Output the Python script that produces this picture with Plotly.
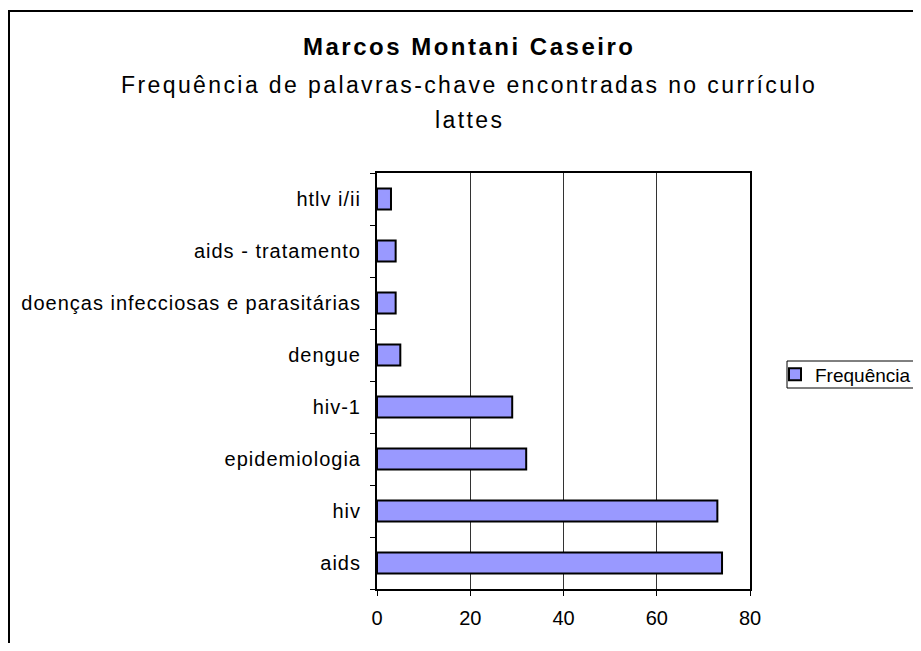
import plotly.graph_objects as go

categories = ["aids", "hiv", "epidemiologia", "hiv-1", "dengue",
              "doenças infecciosas e parasitárias", "aids - tratamento", "htlv i/ii"]
values = [74, 73, 32, 29, 5, 4, 4, 3]
x_ticks = [0, 20, 40, 60, 80]
series_name = "Frequência"
title_text = "Marcos Montani Caseiro"
subtitle_lines = ["Frequência de palavras-chave encontradas no currículo", "lattes"]

FONT = "Liberation Sans, Arial, sans-serif"

# page body has an 8px margin on every side; keep the figure inside the window
OFF = 8
W, H = 921 - 2 * OFF, 651 - 2 * OFF
# plot-area edges in screenshot pixels
L, R, T, B = 377, 750, 173, 589


def px(xp):
    return (xp - L) / (R - L)


def py(yp):
    return (B - yp) / (B - T)


def spaced(s, sp):
    return '<span style="letter-spacing:%spx">%s</span>' % (sp, s)


fig = go.Figure()
fig.add_trace(go.Bar(
    x=values, y=categories, orientation="h", name=series_name,
    marker=dict(color="#9999FF", line=dict(color="black", width=2)),
    showlegend=True,
))

fig.update_layout(
    width=W, height=H,
    margin=dict(l=L - OFF, r=W - (R - OFF), t=T - OFF, b=H - (B - OFF),
                pad=0, autoexpand=False),
    paper_bgcolor="white", plot_bgcolor="white",
    font=dict(family=FONT, size=20, color="black"),
    bargap=0.6,
    showlegend=True,
    legend=dict(
        x=px(775), y=py(374.5), xanchor="left", yanchor="middle",
        bgcolor="rgba(0,0,0,0)", borderwidth=0,
        font=dict(family=FONT, size=19, color="black"),
        itemwidth=30, itemsizing="constant",
    ),
    xaxis=dict(
        range=[0, 80], tickvals=x_ticks, ticks="outside", ticklen=5,
        tickcolor="black", tickwidth=1, showgrid=True, gridcolor="#333",
        gridwidth=1, showline=True, linecolor="black", linewidth=2,
        mirror=True, zeroline=False, ticklabelstandoff=5, automargin=False,
        tickfont=dict(family=FONT, size=20, color="black"), fixedrange=True,
    ),
    yaxis=dict(
        type="category", categoryorder="array", categoryarray=categories,
        tickvals=categories, ticktext=[spaced(c, 1) for c in categories],
        ticks="outside", ticklen=5, tickcolor="black", tickwidth=1,
        tickson="boundaries", showgrid=False, showline=True,
        linecolor="black", linewidth=2, mirror=True, ticklabelstandoff=10,
        automargin=False,
        tickfont=dict(family=FONT, size=20, color="black"), fixedrange=True,
    ),
    shapes=[
        dict(type="rect", xref="paper", yref="paper",
             x0=px(9), x1=px(1000), y0=py(11), y1=py(720),
             line=dict(color="black", width=2), fillcolor="rgba(0,0,0,0)",
             layer="below"),
        dict(type="rect", xref="paper", yref="paper",
             x0=px(787), x1=px(1000), y0=py(361), y1=py(388),
             line=dict(color="black", width=1), fillcolor="white",
             layer="below"),
    ],
    annotations=[
        dict(text="<b>" + spaced(title_text, 2.5) + "</b>",
             xref="paper", yref="paper", x=px(469), y=py(47),
             xanchor="center", yanchor="middle", showarrow=False,
             font=dict(family=FONT, size=24, color="black")),
        dict(text=spaced(subtitle_lines[0], 2.4),
             xref="paper", yref="paper", x=px(469), y=py(85),
             xanchor="center", yanchor="middle", showarrow=False,
             font=dict(family=FONT, size=23, color="black")),
        dict(text=spaced(subtitle_lines[1], 2.4),
             xref="paper", yref="paper", x=px(469), y=py(120),
             xanchor="center", yanchor="middle", showarrow=False,
             font=dict(family=FONT, size=23, color="black")),
    ],
)

fig.write_html("out.html", config={"displayModeBar": False})
